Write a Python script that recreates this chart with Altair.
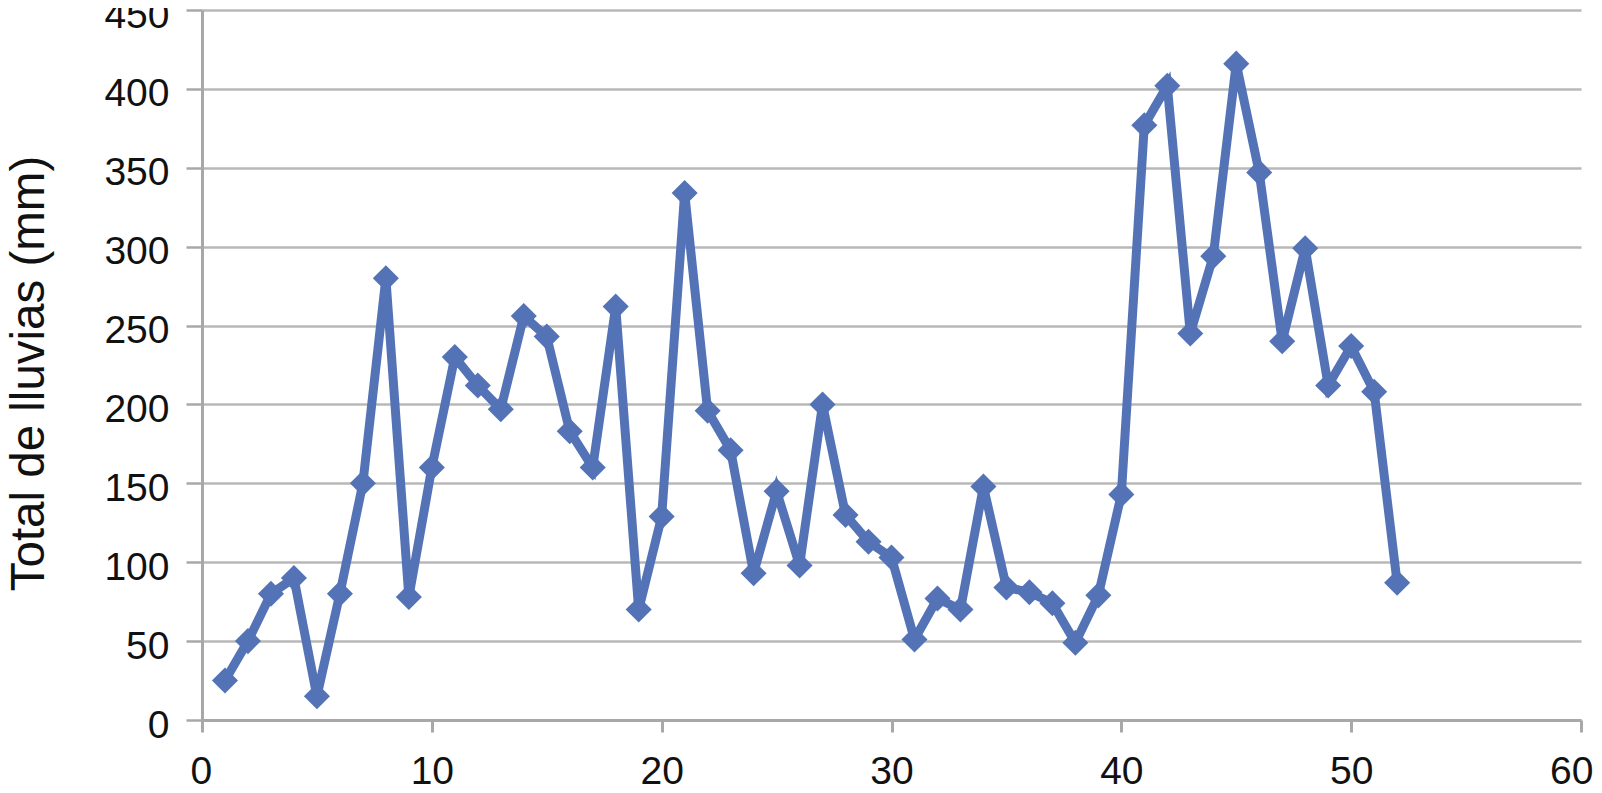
import altair as alt
import pandas as pd

weeks = list(range(1, 53))
rain = [25, 50, 80, 90, 15, 80, 150, 280, 78, 160,
        230, 212, 197, 256, 243, 183, 160, 262, 70, 129,
        334, 196, 171, 93, 145, 98, 200, 130, 113, 103,
        51, 77, 70, 148, 84, 81, 74, 49, 79, 143,
        377, 402, 245, 294, 416, 347, 240, 299, 212, 237,
        208, 87]

x_ticks = [0, 10, 20, 30, 40, 50, 60]
y_ticks = [0, 50, 100, 150, 200, 250, 300, 350, 400, 450]

df = pd.DataFrame({"semana": weeks, "lluvia": rain})

FONT = "Liberation Sans"
BLUE = "#5473b6"

x_enc = alt.X("semana:Q",
              scale=alt.Scale(domain=[0, 60], nice=False, zero=False),
              axis=alt.Axis(values=x_ticks, title=None, grid=False, gridOpacity=0,
                            tickSize=12, tickWidth=3, tickColor="#a8a8a8",
                            domainColor="#a8a8a8", domainWidth=3,
                            labelFont=FONT, labelFontSize=39, labelColor="#111111",
                            labelPadding=20, labelFlush=True, labelFlushOffset=12,
                            labelBaseline="top"))
y_enc = alt.Y("lluvia:Q",
              scale=alt.Scale(domain=[0, 450], nice=False),
              axis=alt.Axis(values=y_ticks, title="Total de lluvias (mm)",
                            grid=True, gridColor="#b8b8b8", gridWidth=2.5,
                            tickSize=16, tickWidth=2.5, tickColor="#a8a8a8",
                            domainColor="#a8a8a8", domainWidth=3,
                            labelFont=FONT, labelFontSize=39, labelColor="#111111",
                            labelPadding=17, labelOffset=5, labelFlush=False,
                            titleFont=FONT, titleFontSize=47.5, titleFontWeight="normal",
                            titleColor="#111111", titleAngle=270,
                            titleX=-159, titleY=363, titleBaseline="alphabetic",
                            titleAlign="center"))

line = alt.Chart(df).mark_line(color=BLUE, strokeWidth=9, strokeJoin="miter").encode(
    x=x_enc, y=y_enc)
pts = alt.Chart(df).mark_point(shape="diamond", filled=True, size=680,
                               color=BLUE, opacity=1).encode(x=x_enc, y=y_enc)

chart = alt.layer(line, pts).properties(
    width=1379, height=710,
    background="white",
    autosize=alt.AutoSizeParams(type="none"),
    padding={"left": 194, "top": 2, "right": 13, "bottom": 65},
).configure_view(stroke="transparent", strokeWidth=0, strokeOpacity=0)

chart.save("out.html", embed_options={"renderer": "svg", "actions": False})
